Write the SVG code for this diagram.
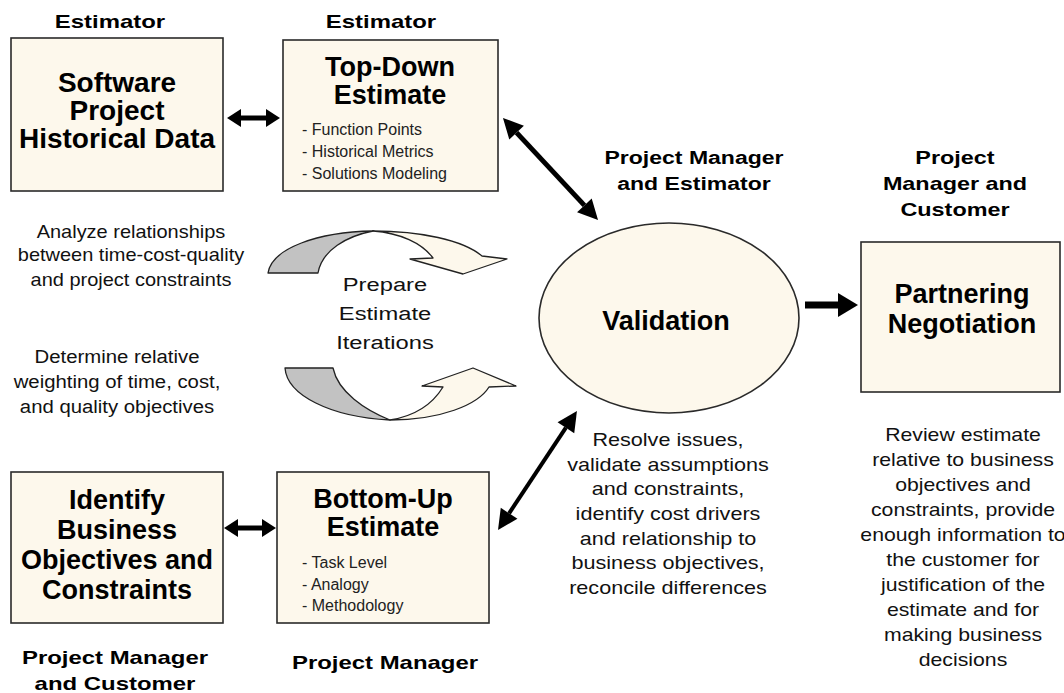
<svg xmlns="http://www.w3.org/2000/svg" width="1064" height="693" viewBox="0 0 1064 693">
  <style>
    .box { fill: #fdf8ec; stroke: #2a2a2a; stroke-width: 1.6; }
    .ttl { font-family: "Liberation Sans", Arial, sans-serif; font-weight: bold; font-size: 27px; fill: #000; text-anchor: middle; }
    .lbl { font-family: "Liberation Sans", Arial, sans-serif; font-weight: bold; font-size: 18px; fill: #000; text-anchor: middle; }
    .txt { font-family: "Liberation Sans", Arial, sans-serif; font-size: 18px; fill: #111; text-anchor: middle; }
    .bul { font-family: "Liberation Sans", Arial, sans-serif; font-size: 16px; fill: #222; }
    .link { stroke: #000; fill: none; }
    .gray { fill: #c2c2c2; stroke: #222; stroke-width: 1.3; stroke-linejoin: round; }
    .cream { fill: #fdf8ec; stroke: #222; stroke-width: 1.3; stroke-linejoin: round; }
  </style>
  <defs>
    <marker id="headS" markerUnits="userSpaceOnUse" orient="auto-start-reverse" refX="0" refY="0" markerWidth="30" markerHeight="30" overflow="visible">
      <path d="M0,-9 L14,0 L0,9 Z" fill="#000"/>
    </marker>
    <marker id="headM" markerUnits="userSpaceOnUse" orient="auto-start-reverse" refX="0" refY="0" markerWidth="30" markerHeight="30" overflow="visible">
      <path d="M0,-10 L20,0 L0,10 Z" fill="#000"/>
    </marker>
    <marker id="headL" markerUnits="userSpaceOnUse" orient="auto" refX="0" refY="0" markerWidth="30" markerHeight="30" overflow="visible">
      <path d="M0,-12 L20,0 L0,12 Z" fill="#000"/>
    </marker>
  </defs>

  <rect width="1064" height="693" fill="#fff"/>

  <!-- role labels -->
  <g id="roles">
    <text class="lbl" transform="matrix(1.33 0 0 1 110 28)">Estimator</text>
    <text class="lbl" transform="matrix(1.33 0 0 1 381 28)">Estimator</text>
    <text class="lbl" transform="matrix(1.28 0 0 1 694 164)">Project Manager</text>
    <text class="lbl" transform="matrix(1.28 0 0 1 694 190)">and Estimator</text>
    <text class="lbl" transform="matrix(1.3 0 0 1 955 164)">Project</text>
    <text class="lbl" transform="matrix(1.3 0 0 1 955 190)">Manager and</text>
    <text class="lbl" transform="matrix(1.3 0 0 1 955 216)">Customer</text>
    <text class="lbl" transform="matrix(1.33 0 0 1 115 664)">Project Manager</text>
    <text class="lbl" transform="matrix(1.33 0 0 1 115 690)">and Customer</text>
    <text class="lbl" transform="matrix(1.33 0 0 1 385 669)">Project Manager</text>
  </g>

  <!-- nodes -->
  <g id="historical-data">
    <rect class="box" x="11" y="38" width="212" height="153"/>
    <text class="ttl" x="117" y="92" style="font-size:28px">Software</text>
    <text class="ttl" x="117" y="120" style="font-size:28px">Project</text>
    <text class="ttl" x="117" y="148" style="font-size:28px">Historical Data</text>
  </g>

  <g id="top-down">
    <rect class="box" x="283" y="40" width="215" height="151"/>
    <text class="ttl" x="390" y="76">Top-Down</text>
    <text class="ttl" x="390" y="104">Estimate</text>
    <text class="bul" x="302" y="135">- Function Points</text>
    <text class="bul" x="302" y="157">- Historical Metrics</text>
    <text class="bul" x="302" y="179">- Solutions Modeling</text>
  </g>

  <g id="business-objectives">
    <rect class="box" x="11" y="472" width="212" height="151"/>
    <text class="ttl" x="117" y="509">Identify</text>
    <text class="ttl" x="117" y="539">Business</text>
    <text class="ttl" x="117" y="569">Objectives and</text>
    <text class="ttl" x="117" y="599">Constraints</text>
  </g>

  <g id="bottom-up">
    <rect class="box" x="277" y="472" width="212" height="151"/>
    <text class="ttl" x="383" y="508">Bottom-Up</text>
    <text class="ttl" x="383" y="536">Estimate</text>
    <text class="bul" x="302" y="568">- Task Level</text>
    <text class="bul" x="302" y="590">- Analogy</text>
    <text class="bul" x="302" y="611">- Methodology</text>
  </g>

  <g id="validation">
    <ellipse class="box" cx="669" cy="318" rx="130" ry="95"/>
    <text class="ttl" x="666" y="330">Validation</text>
  </g>

  <g id="partnering">
    <rect class="box" x="861" y="242" width="199" height="150"/>
    <text class="ttl" x="962" y="303">Partnering</text>
    <text class="ttl" x="962" y="333">Negotiation</text>
  </g>

  <!-- iteration loop arrows -->
  <g id="iterations">
    <path class="gray" d="M268,273 C272,248 318,232 373,231 C347,236 322,250 318,273 Z"/>
    <path class="cream" d="M373,231 C420,231 463,240 482,256 L507,259 L463,274 L410,259 L433,258 C422,243 400,233 373,231 Z"/>
    <path class="gray" d="M285,368 C287,395 330,417 390,420 C365,410 338,392 333,368 Z"/>
    <path class="cream" d="M390,420 C440,420 478,405 489,387 L516,386 L473,368 L422,386 L443,387 C432,405 415,416 390,420 Z"/>
    <text class="txt" transform="matrix(1.32 0 0 1 385 291)">Prepare</text>
    <text class="txt" transform="matrix(1.32 0 0 1 385 320)">Estimate</text>
    <text class="txt" transform="matrix(1.32 0 0 1 385 349)">Iterations</text>
  </g>

  <!-- notes -->
  <g id="notes">
    <text class="txt" transform="matrix(1.11 0 0 1 131 238)">Analyze relationships</text>
    <text class="txt" transform="matrix(1.11 0 0 1 131 261)">between time-cost-quality</text>
    <text class="txt" transform="matrix(1.11 0 0 1 131 286)">and project constraints</text>

    <text class="txt" transform="matrix(1.13 0 0 1 117 363)">Determine relative</text>
    <text class="txt" transform="matrix(1.13 0 0 1 117 388)">weighting of time, cost,</text>
    <text class="txt" transform="matrix(1.13 0 0 1 117 413)">and quality objectives</text>

    <text class="txt" transform="matrix(1.2 0 0 1 668 446)">Resolve issues,</text>
    <text class="txt" transform="matrix(1.2 0 0 1 668 471)">validate assumptions</text>
    <text class="txt" transform="matrix(1.2 0 0 1 668 495)">and constraints,</text>
    <text class="txt" transform="matrix(1.2 0 0 1 668 520)">identify cost drivers</text>
    <text class="txt" transform="matrix(1.2 0 0 1 668 545)">and relationship to</text>
    <text class="txt" transform="matrix(1.2 0 0 1 668 569)">business objectives,</text>
    <text class="txt" transform="matrix(1.2 0 0 1 668 594)">reconcile differences</text>

    <text class="txt" transform="matrix(1.18 0 0 1 963 441)">Review estimate</text>
    <text class="txt" transform="matrix(1.18 0 0 1 963 466)">relative to business</text>
    <text class="txt" transform="matrix(1.18 0 0 1 963 491)">objectives and</text>
    <text class="txt" transform="matrix(1.18 0 0 1 963 516)">constraints, provide</text>
    <text class="txt" transform="matrix(1.18 0 0 1 963 541)">enough information to</text>
    <text class="txt" transform="matrix(1.18 0 0 1 963 566)">the customer for</text>
    <text class="txt" transform="matrix(1.18 0 0 1 963 591)">justification of the</text>
    <text class="txt" transform="matrix(1.18 0 0 1 963 616)">estimate and for</text>
    <text class="txt" transform="matrix(1.18 0 0 1 963 641)">making business</text>
    <text class="txt" transform="matrix(1.18 0 0 1 963 666)">decisions</text>
  </g>

  <!-- connectors -->
  <g id="connectors">
    <line class="link" x1="241" y1="118" x2="266" y2="118" stroke-width="5" marker-start="url(#headS)" marker-end="url(#headS)"/>
    <line class="link" x1="238" y1="528" x2="262" y2="528" stroke-width="5" marker-start="url(#headS)" marker-end="url(#headS)"/>
    <line class="link" x1="516.6" y1="132.6" x2="584.4" y2="205.4" stroke-width="5" marker-start="url(#headM)" marker-end="url(#headM)"/>
    <line class="link" x1="565.9" y1="427.7" x2="509.1" y2="513.3" stroke-width="4" marker-start="url(#headM)" marker-end="url(#headM)"/>
    <line class="link" x1="805" y1="305" x2="838" y2="305" stroke-width="7" marker-end="url(#headL)"/>
  </g>
</svg>
